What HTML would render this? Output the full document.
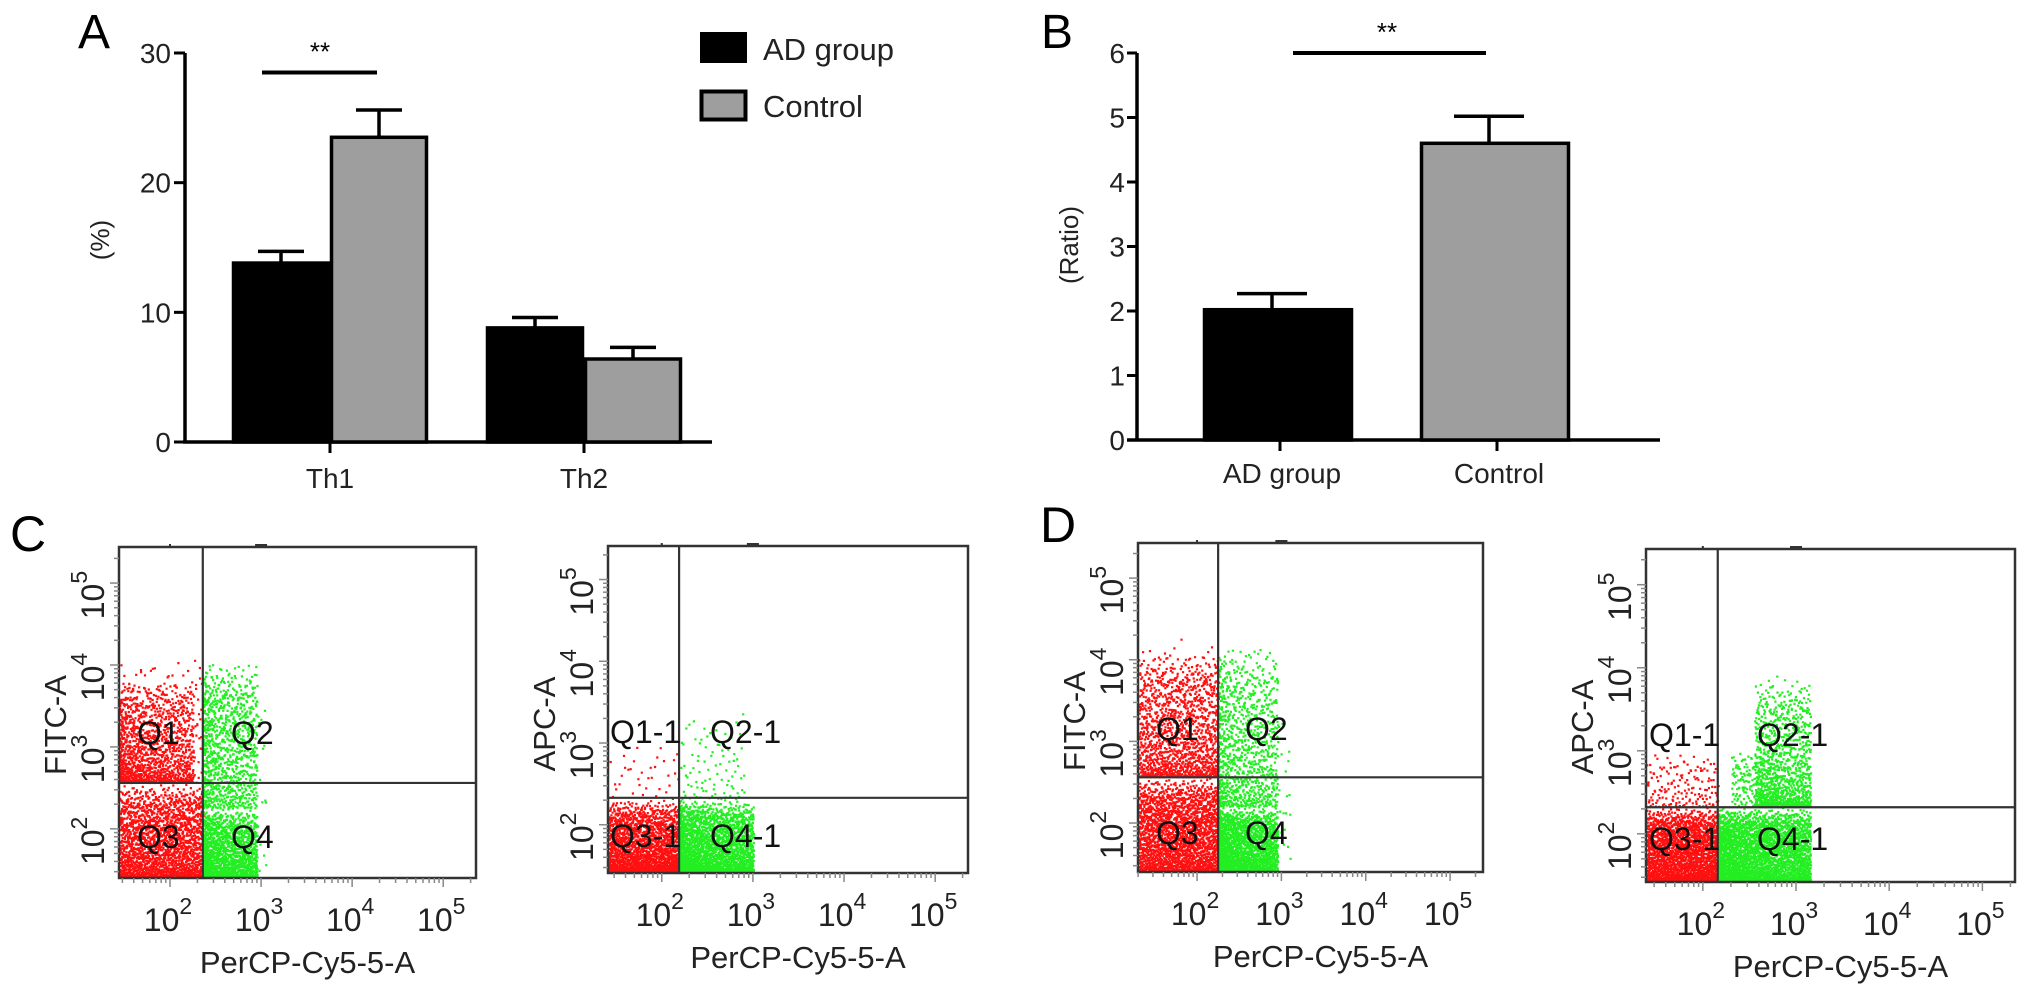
<!DOCTYPE html>
<html><head><meta charset="utf-8"><style>
html,body{margin:0;padding:0;background:#fff;}
svg{display:block;font-family:"Liberation Sans",Arial,sans-serif;}
</style></head><body>
<svg id="fig" width="2032" height="993" viewBox="0 0 2032 993" xmlns="http://www.w3.org/2000/svg">
<text x="78" y="48" font-size="48">A</text>
<text x="1041" y="48" font-size="48">B</text>
<text x="10" y="551" font-size="50">C</text>
<text x="1040" y="542" font-size="50">D</text>
<g id="gA"></g>
<g id="gB"></g>
<g id="gF"></g>
</svg>
<script>
// ---- Panel A data ----
const aCategories = ["Th1", "Th2"];
const aAdValues = [13.8, 8.8];
const aAdErr = [0.9, 0.8];
const aCtrlValues = [23.5, 6.4];
const aCtrlErr = [2.1, 0.9];
const aTicks = [0, 10, 20, 30];
// ---- Panel B data ----
const bCategories = ["AD group", "Control"];
const bValues = [2.02, 4.6];
const bErr = [0.25, 0.42];
const bTicks = [0, 1, 2, 3, 4, 5, 6];
// ---- Flow cytometry cluster data (log10 units): [xmin,xmax,ymin,ymax,count,yskew,xskew] ----
const flow1Red = [[1.44,2.36,1.40,2.56,1900,1.3,1],[1.44,2.25,2.56,3.8,1100,1.7,1.3],[1.44,2.36,2.56,4.1,250,1,1]];
const flow1Green = [[2.36,2.95,1.40,2.25,1300,1.3,1.3],[2.36,2.95,2.25,4.05,900,1.1,1.3],[2.36,3.05,1.4,4.0,120,1,1]];
const flow2Red = [[1.41,2.19,1.41,2.31,1700,1.4,1],[1.41,2.19,2.31,3.0,35,1,1]];
const flow2Green = [[2.19,3.0,1.41,2.31,2000,1.4,1.3],[2.2,2.9,2.31,3.4,90,1.5,1]];
const flow3Red = [[1.30,2.25,1.40,2.56,2100,1.2,1],[1.30,2.25,2.56,4.1,1200,1.5,1],[1.30,2.25,2.56,4.3,150,1,1]];
const flow3Green = [[2.25,2.95,1.40,2.2,1600,1.2,1.3],[2.25,2.95,2.2,4.2,900,1.3,1.3],[2.25,3.1,1.4,3.4,100,1,1]];
const flow4Red = [[1.39,2.16,1.42,2.32,2000,1.2,1],[1.39,2.16,2.32,3.0,160,1.4,1]];
const flow4Green = [[2.16,3.15,1.42,2.32,2700,1.2,1.2],[2.55,3.15,2.32,3.9,1000,1.8,1],[2.3,2.8,2.32,3.0,200,1,1]];
const flowVGate = [2.36, 2.19, 2.25, 2.16];
const flowHGate = [2.56, 2.33, 2.56, 2.32];

const NS = "http://www.w3.org/2000/svg";
function mk(parent, tag, attrs, txt){const e=document.createElementNS(NS,tag);for(const k in attrs)e.setAttribute(k,attrs[k]);if(txt!==undefined)e.textContent=txt;parent.appendChild(e);return e;}

// ===== Panel A =====
(function(){
  const g=document.getElementById('gA');
  const x0=185,y0=442,yTop=53,yMax=30,xEnd=712;
  const ys=v=>y0-(v/yMax)*(y0-yTop);
  const groupC=[330,584], bw=98;
  let l=mk(g,'line',{x1:x0,y1:yTop,x2:x0,y2:y0,stroke:'#000','stroke-width':3.5});
   
  l=mk(g,'line',{x1:x0-2,y1:y0,x2:xEnd,y2:y0,stroke:'#000','stroke-width':3.5});
   
  aTicks.forEach(t=>{
    mk(g,'line',{x1:x0-11,y1:ys(t),x2:x0,y2:ys(t),stroke:'#000','stroke-width':3});
    const tx=mk(g,'text',{x:x0-14,y:ys(t)+10,'font-size':28,'text-anchor':'end',fill:'#222'},String(t));
     
  });
  const yt=mk(g,'text',{x:0,y:0,'font-size':26,'text-anchor':'middle',transform:'translate(109,240) rotate(-90)',fill:'#222'},'(%)');
   
  aCategories.forEach((c,i)=>{
    const cx=groupC[i];
    mk(g,'line',{x1:cx,y1:y0,x2:cx,y2:y0+11,stroke:'#000','stroke-width':3});
    const t=mk(g,'text',{x:cx,y:y0+46,'font-size':28,'text-anchor':'middle',fill:'#222'},c);
     
    [[aAdValues,aAdErr,'#000',cx-bw,'bar-ad'],[aCtrlValues,aCtrlErr,'#9e9e9e',cx,'bar-control']].forEach(([vals,errs,col,bx,nm])=>{
      const v=vals[i],e=errs[i],mid=bx+bw/2;
      mk(g,'line',{x1:mid,y1:ys(v),x2:mid,y2:ys(v+e),stroke:'#000','stroke-width':3.5});
      mk(g,'line',{x1:mid-23,y1:ys(v+e),x2:mid+23,y2:ys(v+e),stroke:'#000','stroke-width':3.5});
      const r=mk(g,'rect',{x:bx+1.5,y:ys(v),width:bw-3,height:y0-ys(v),fill:col,stroke:'#000','stroke-width':3.5});
       
    });
  });
  const sy=ys(28.5);
  const sl=mk(g,'line',{x1:262,y1:sy,x2:377,y2:sy,stroke:'#000','stroke-width':4});
   
  const st=mk(g,'text',{x:320,y:sy-12,'font-size':26,'text-anchor':'middle'},'**');
   
  const lg=mk(g,'g',{});  
  let b=mk(lg,'rect',{x:701.5,y:33.5,width:44,height:28,fill:'#000',stroke:'#000','stroke-width':3});
   
  let t=mk(lg,'text',{x:763,y:60,'font-size':31,fill:'#222'},'AD group');
   
  b=mk(lg,'rect',{x:701.5,y:91.5,width:44,height:28,fill:'#9e9e9e',stroke:'#000','stroke-width':4});
   
  t=mk(lg,'text',{x:763,y:117,'font-size':31,fill:'#222'},'Control');
   
})();

// ===== Panel B =====
(function(){
  const g=document.getElementById('gB');
  const x0=1137,y0=440,yTop=53,yMax=6,xEnd=1660;
  const ys=v=>y0-(v/yMax)*(y0-yTop);
  const centers=[1280,1497], bw=147;
  let l=mk(g,'line',{x1:x0,y1:yTop,x2:x0,y2:y0,stroke:'#000','stroke-width':3.5});
   
  l=mk(g,'line',{x1:x0-10,y1:y0,x2:xEnd,y2:y0,stroke:'#000','stroke-width':3.5});
   
  bTicks.forEach(t=>{
    mk(g,'line',{x1:x0-10,y1:ys(t),x2:x0,y2:ys(t),stroke:'#000','stroke-width':3});
    const tx=mk(g,'text',{x:x0-12,y:ys(t)+10,'font-size':28,'text-anchor':'end',fill:'#222'},String(t));
     
  });
  const yt=mk(g,'text',{x:0,y:0,'font-size':26,'text-anchor':'middle',transform:'translate(1078,245) rotate(-90)',fill:'#222'},'(Ratio)');
   
  const cols=['#000','#9e9e9e'];
  bCategories.forEach((c,i)=>{
    const cx=centers[i], v=bValues[i], e=bErr[i];
    mk(g,'line',{x1:cx,y1:y0,x2:cx,y2:y0+11,stroke:'#000','stroke-width':3});
    const t=mk(g,'text',{x:cx+2,y:y0+43,'font-size':28,'text-anchor':'middle',fill:'#222'},c);
     
    const mid=cx-8;
    mk(g,'line',{x1:mid,y1:ys(v),x2:mid,y2:ys(v+e),stroke:'#000','stroke-width':3.5});
    mk(g,'line',{x1:mid-35,y1:ys(v+e),x2:mid+35,y2:ys(v+e),stroke:'#000','stroke-width':3.5});
    const r=mk(g,'rect',{x:cx-bw/2-2,y:ys(v),width:bw,height:y0-ys(v),fill:cols[i],stroke:'#000','stroke-width':3.5});
     
  });
  const sl=mk(g,'line',{x1:1293,y1:ys(6),x2:1486,y2:ys(6),stroke:'#000','stroke-width':4});
   
  const st=mk(g,'text',{x:1387,y:ys(6)-12,'font-size':26,'text-anchor':'middle'},'**');
   
})();

// ===== Flow plots =====
function halton(i,b){let f=1,r=0;while(i>0){f/=b;r+=f*(i%b);i=Math.floor(i/b);}return r;}
const flowFrames=[
  {l:119,t:547,r:476,b:878,xr:[1.44,5.36],yr:[1.40,5.44],yl:'FITC-A',q:['Q1','Q2','Q3','Q4'],qo:[18,112]},
  {l:608,t:546,r:968,b:873,xr:[1.41,5.36],yr:[1.41,5.41],yl:'APC-A',q:['Q1-1','Q2-1','Q3-1','Q4-1'],qo:[2,102]},
  {l:1138,t:543,r:1483,b:872,xr:[1.30,5.39],yr:[1.40,5.43],yl:'FITC-A',q:['Q1','Q2','Q3','Q4'],qo:[18,107]},
  {l:1646,t:549,r:2015,b:882,xr:[1.39,5.35],yr:[1.42,5.43],yl:'APC-A',q:['Q1-1','Q2-1','Q3-1','Q4-1'],qo:[3,111]}
];
const flowRed=[flow1Red,flow2Red,flow3Red,flow4Red];
const flowGreen=[flow1Green,flow2Green,flow3Green,flow4Green];
(function(){
  const G=document.getElementById('gF');
  flowFrames.forEach((F,pi)=>{
    const g=mk(G,'g',{});
     
    const xs=v=>F.l+(v-F.xr[0])/(F.xr[1]-F.xr[0])*(F.r-F.l);
    const ys=v=>F.b-(v-F.yr[0])/(F.yr[1]-F.yr[0])*(F.b-F.t);
    [[flowRed[pi],'#ff1010'],[flowGreen[pi],'#22ee22']].forEach(([cl,col],ci)=>{
      const dg=mk(g,'g',{fill:col});
       
      let path='';
      let idx=1+pi*7919+ci*3001;
      cl.forEach(c=>{
        for(let k=0;k<c[4];k++){
          idx++;
          const u=Math.pow(halton(idx,2),c[6]), w=Math.pow(halton(idx,3),c[5]);
          const top=c[2]+(c[3]-c[2])*(0.75+0.25*halton(idx,5));
          const px=xs(c[0]+u*(c[1]-c[0])), py=ys(c[2]+w*(top-c[2]));
          path+='M'+px.toFixed(1)+' '+(py-1.1).toFixed(1)+'h2.2v2.2h-2.2z';
        }
      });
      mk(dg,'path',{d:path});
    });
    const fr=mk(g,'rect',{x:F.l,y:F.t,width:F.r-F.l,height:F.b-F.t,fill:'none',stroke:'#333','stroke-width':2.5});
     
    const vg=mk(g,'line',{x1:xs(flowVGate[pi]),y1:F.t,x2:xs(flowVGate[pi]),y2:F.b,stroke:'#333','stroke-width':2.2});
     
    const hg=mk(g,'line',{x1:F.l,y1:ys(flowHGate[pi]),x2:F.r,y2:ys(flowHGate[pi]),stroke:'#333','stroke-width':2.2});
     
    mk(g,'rect',{x:xs(3.0)-6,y:F.t-3,width:12,height:3,fill:'#333'});
    mk(g,'rect',{x:xs(2.0)-1,y:F.t-3,width:2,height:3,fill:'#333'});
    for(let d=1;d<=5;d++){
      for(let k=1;k<10;k++){
        const lv=d+Math.log10(k);
        if(lv>=F.xr[0]&&lv<=F.xr[1]){const x=xs(lv);mk(g,'line',{x1:x,y1:F.b,x2:x,y2:F.b+(k==1?9:5),stroke:'#888','stroke-width':1.5});}
        if(lv>=F.yr[0]&&lv<=F.yr[1]){const y=ys(lv);mk(g,'line',{x1:F.l,y1:y,x2:F.l-(k==1?9:5),y2:y,stroke:'#888','stroke-width':1.5});}
      }
    }
    for(let d=2;d<=5;d++){
      const x=xs(d)-2, y=F.b+53;
      const t=mk(g,'text',{x:x,y:y,'font-size':32,'text-anchor':'middle',fill:'#222'});
       
      mk(t,'tspan',{},'10'); mk(t,'tspan',{dy:-17,'font-size':23},String(d));
      const yy=ys(d)-2;
      const t2=mk(g,'text',{x:0,y:0,'font-size':32,'text-anchor':'middle',fill:'#222',transform:'translate('+(F.l-15)+','+(yy+14)+') rotate(-90)'});
       
      mk(t2,'tspan',{},'10'); mk(t2,'tspan',{dy:-17,'font-size':23},String(d));
    }
    const xt=mk(g,'text',{x:(F.l+F.r)/2+10,y:F.b+95,'font-size':31,'text-anchor':'middle',fill:'#222'},'PerCP-Cy5-5-A');
     
    const yt=mk(g,'text',{x:0,y:0,'font-size':31,'text-anchor':'middle',fill:'#222',transform:'translate('+(F.l-53)+','+(F.t+178)+') rotate(-90)'},F.yl);
     
    const pos=[[F.l+F.qo[0],F.t+197],[F.l+F.qo[1],F.t+197],[F.l+F.qo[0],F.t+301],[F.l+F.qo[1],F.t+301]];
    F.q.forEach((q,i)=>{
      const t=mk(g,'text',{x:pos[i][0],y:pos[i][1],'font-size':32,fill:'#111'},q);
       
    });
  });
})();
</script>
</body></html>
